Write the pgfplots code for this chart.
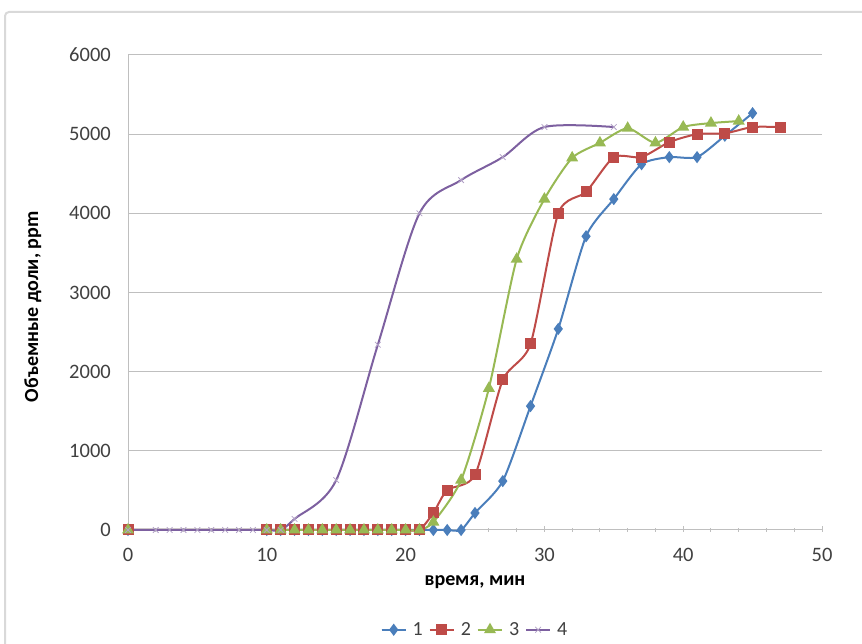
\documentclass[border=0pt]{standalone}
\usepackage{fontspec}
\setmainfont{Carlito}
\usepackage{pgfplots}
\pgfplotsset{compat=1.18}
\definecolor{s1}{HTML}{4A7EBB}
\definecolor{s2}{HTML}{BE4B48}
\definecolor{s3}{HTML}{98B954}
\definecolor{s4}{HTML}{7D60A0}
\definecolor{gridc}{HTML}{BFBFBF}
\definecolor{txt}{HTML}{404040}
\begin{document}
\begin{tikzpicture}[x=1pt,y=1pt]
\useasboundingbox (0,0) rectangle (862,644);
\draw[line width=2pt, color=black!15, rounded corners=4pt] (5,632) rectangle (900,-20);
\begin{axis}[
  at={(128pt,114pt)}, anchor=south west,
  scale only axis, width=694pt, height=475pt,
  xmin=0, xmax=50, ymin=0, ymax=6000,
  xtick={0,10,20,30,40,50},
  minor xtick={2,4,6,8,12,14,16,18,22,24,26,28,32,34,36,38,42,44,46,48},
  ytick={0,1000,...,6000},
  axis x line*=bottom, axis y line*=left,
  axis line style={gridc, line width=1pt, -},
  ymajorgrids, grid style={gridc, line width=1pt},
  major tick length=6pt, minor tick length=4pt,
  xtick style={gridc, line width=1pt},
  ytick style={draw=none},
  x tick style={yshift=-2pt},
  /pgf/number format/assume math mode=true,
  /pgf/number format/1000 sep={},
  tick label style={font=\fontsize{20.5}{24}\selectfont, text=txt},
  yticklabel style={anchor=east, inner sep=0pt, xshift=-17pt},
  xticklabel style={anchor=north, inner sep=0pt, yshift=-18pt},
  xlabel={время, мин},
  ylabel={Объемные доли, ppm},
  label style={font=\fontsize{20}{24}\selectfont\bfseries, text=black},
  xlabel style={at={(axis description cs:0.5,-0.109)}, anchor=center},
  ylabel style={at={(axis description cs:-0.137,0.47)}, anchor=center, rotate=0},
  legend style={at={(axis description cs:0.5,-0.21)}, anchor=center, draw=none,
    font=\fontsize{20}{24}\selectfont, text=txt, column sep=4pt},
  legend columns=4,
  legend image code/.code={\draw[#1] (0pt,0pt) -- (12pt,0pt) (12pt,0pt) -- (24pt,0pt);
     \draw[#1, mark repeat=2, mark phase=2] plot coordinates {(0pt,0pt) (12pt,0pt) (24pt,0pt)};},
  clip=false,
]
\addplot[s1, line width=2pt, smooth, tension=0.4, mark=diamond*, mark size=4.5pt, mark options={solid, fill=s1}] coordinates {
(0,0) (10,0) (11,0) (12,0) (13,0) (14,0) (15,0) (16,0) (17,0) (18,0) (19,0) (20,0) (21,0)
(22,0) (23,0) (24,0) (25,215) (27,618) (29,1565) (31,2540) (33,3710) (35,4180) (37,4620)
(39,4710) (41,4710) (43,4980) (45,5265)};
\addlegendentry{1}
\addplot[s2, line width=2pt, smooth, tension=0.4, mark=square*, mark size=4.5pt, mark options={solid, fill=s2}] coordinates {
(0,0) (10,0) (11,0) (12,0) (13,0) (14,0) (15,0) (16,0) (17,0) (18,0) (19,0) (20,0) (21,0)
(22,215) (23,505) (25,695) (27,1895) (29,2350) (31,4000) (33,4270) (35,4710) (37,4710)
(39,4900) (41,5000) (43,5010) (45,5090) (47,5090)};
\addlegendentry{2}
\addplot[s3, line width=2pt, smooth, tension=0.4, mark=triangle*, mark size=5pt, mark options={solid, fill=s3}] coordinates {
(0,0) (10,0) (11,0) (12,0) (13,0) (14,0) (15,0) (16,0) (17,0) (18,0) (19,0) (20,0) (21,0)
(22,100) (24,630) (26,1790) (28,3420) (30,4180) (32,4700) (34,4890) (36,5075) (38,4890)
(40,5090) (42,5140) (44,5165)};
\addlegendentry{3}
\addplot[s4, line width=2pt, smooth, tension=0.5, mark=x, mark size=4pt, mark options={solid, line width=0.8pt, draw=s4!60}] coordinates {
(0,0) (2,0) (3,0) (4,0) (5,0) (6,0) (7,0) (8,0) (9,0) (10,0) (11,0) (12,140) (15,630)
(18,2340) (21,4000) (24,4420) (27,4710) (30,5090) (35,5090)};
\addlegendentry{4}
\end{axis}
\end{tikzpicture}
\end{document}
